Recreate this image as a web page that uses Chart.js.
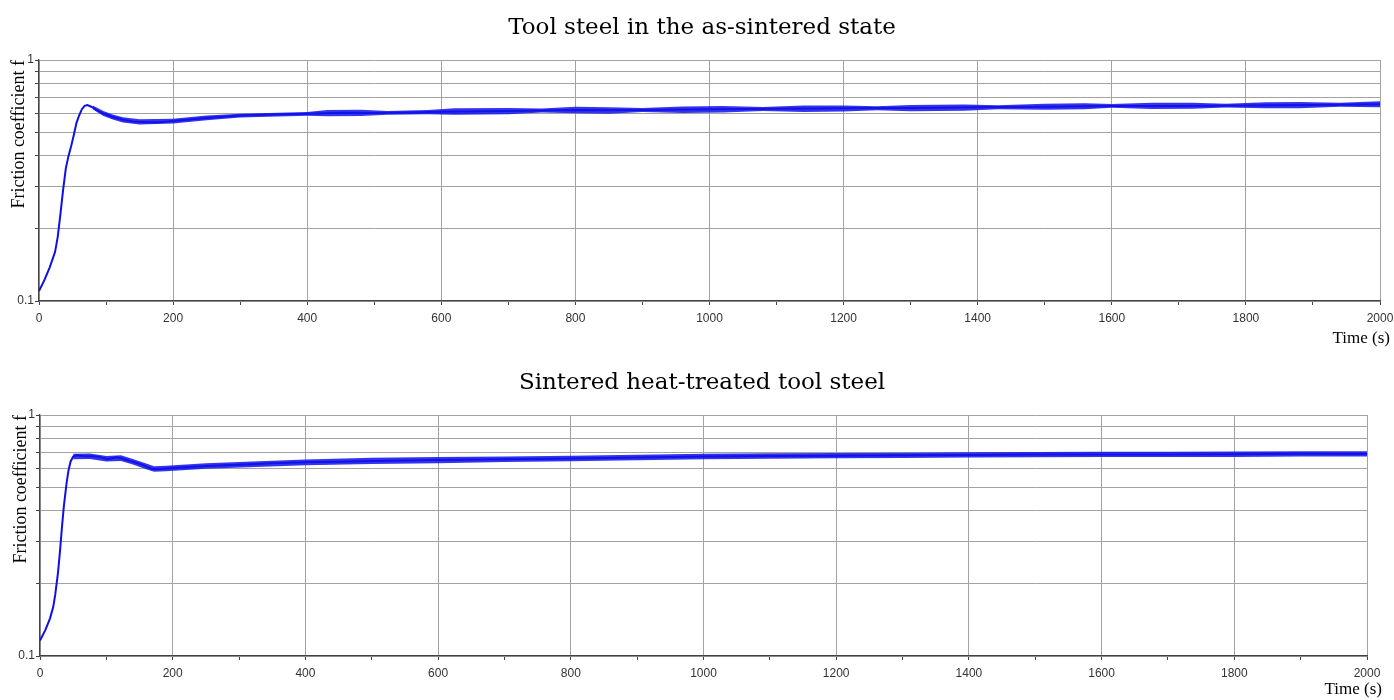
<!DOCTYPE html>
<html>
<head>
<meta charset="utf-8">
<title>Friction coefficient</title>
<script src="https://cdn.jsdelivr.net/npm/chart.js@4.4.1/dist/chart.umd.min.js"></script>
<style>
  body { margin: 0; background: #fff; }
  .painel { position: absolute; left: 0; }
</style>
</head>
<body>
<canvas id="grafico1" class="painel" width="1394" height="350" style="top:0"></canvas>
<canvas id="grafico2" class="painel" width="1394" height="350" style="top:350px"></canvas>
<script>
// eixos
const xTicks = [0, 100, 200, 300, 400, 500, 600, 700, 800, 900, 1000,
  1100, 1200, 1300, 1400, 1500, 1600, 1700, 1800, 1900, 2000];
const yTicks = [0.1, 0.2, 0.3, 0.4, 0.5, 0.6, 0.7, 0.8, 0.9, 1];

// aco sinterizado (grafico de cima)
const topTime = [0, 8, 16, 24, 28, 32, 36, 40, 44, 48, 52, 56, 60, 64, 68, 72, 78, 86, 96, 110,
  125, 140, 160, 180, 200, 250, 300, 350, 400, 450, 500, 550, 600, 700, 800, 850, 900, 1000, 1100, 1200,
  1300, 1400, 1500, 1600, 1700, 1800, 1900, 2000];
const topFriction = [0.110, 0.122, 0.138, 0.160, 0.185, 0.230, 0.290, 0.355, 0.400, 0.440,
  0.490, 0.550, 0.590, 0.625, 0.645, 0.650, 0.640, 0.620, 0.600, 0.580,
  0.565, 0.556, 0.552, 0.552, 0.558, 0.575, 0.588, 0.594, 0.598, 0.604,
  0.603, 0.606, 0.610, 0.614, 0.620, 0.618, 0.620, 0.624, 0.627, 0.630,
  0.632, 0.636, 0.640, 0.645, 0.645, 0.648, 0.650, 0.655];
// faixa da oscilacao
const topBandTime = [80, 96, 110, 125, 150, 200, 250, 300, 400, 430, 480, 520, 580, 620, 700, 750, 800, 850,
  900, 960, 1020, 1080, 1140, 1200, 1250, 1300, 1380, 1430, 1500, 1560, 1600, 1660, 1720, 1770,
  1830, 1880, 1940, 2000];
const topBandLow = [0.624, 0.585, 0.566, 0.551, 0.540, 0.545, 0.562, 0.577, 0.587, 0.584, 0.586, 0.593,
  0.596, 0.592, 0.596, 0.605, 0.601, 0.599, 0.608, 0.603, 0.606, 0.614, 0.609, 0.612, 0.619, 0.613,
  0.616, 0.625, 0.621, 0.624, 0.633, 0.626, 0.628, 0.635, 0.630, 0.631, 0.640, 0.636];
const topBandHigh = [0.648, 0.615, 0.594, 0.579, 0.568, 0.571, 0.588, 0.599, 0.609, 0.620, 0.622, 0.615,
  0.620, 0.630, 0.632, 0.629, 0.639, 0.637, 0.632, 0.641, 0.644, 0.638, 0.647, 0.648, 0.643, 0.651,
  0.654, 0.649, 0.659, 0.662, 0.657, 0.664, 0.664, 0.659, 0.668, 0.669, 0.664, 0.674];

// aco sinterizado com tratamento termico (grafico de baixo)
const botTime = [0, 8, 15, 20, 23, 27, 30, 33, 36, 40, 43, 46, 50, 55, 65, 75, 85, 95, 102, 108,
  115, 122, 135, 150, 160, 168, 175, 190, 210, 250, 300, 350, 400, 450, 500, 600, 700, 800, 900, 1000,
  1100, 1200, 1300, 1400, 1500, 1600, 1700, 1800, 1900, 2000];
const botFriction = [0.116, 0.128, 0.143, 0.160, 0.180, 0.220, 0.270, 0.340, 0.420, 0.520,
  0.590, 0.640, 0.672, 0.680, 0.676, 0.674, 0.672, 0.664, 0.656, 0.662,
  0.668, 0.662, 0.645, 0.628, 0.612, 0.598, 0.596, 0.600, 0.606, 0.614,
  0.622, 0.630, 0.636, 0.640, 0.645, 0.650, 0.655, 0.660, 0.666, 0.672,
  0.676, 0.678, 0.680, 0.683, 0.685, 0.686, 0.686, 0.688, 0.690, 0.689];
const botBandTime = [50, 75, 100, 122, 140, 160, 172, 190, 250, 400, 500, 600, 700, 800, 900, 1000,
  1100, 1200, 1300, 1400, 1500, 1600, 1700, 1800, 1900, 2000];
const botBandLow = [0.655, 0.657, 0.641, 0.645, 0.623, 0.596, 0.581, 0.584, 0.598, 0.619, 0.626, 0.631,
  0.638, 0.643, 0.649, 0.655, 0.659, 0.661, 0.663, 0.666, 0.668, 0.669, 0.669, 0.670, 0.673, 0.672];
const botBandHigh = [0.690, 0.692, 0.676, 0.680, 0.657, 0.629, 0.613, 0.616, 0.631, 0.653, 0.664, 0.669,
  0.673, 0.678, 0.684, 0.690, 0.694, 0.696, 0.698, 0.701, 0.703, 0.704, 0.704, 0.706, 0.708, 0.707];

const toPoints = (xs, ys) => xs.map((x, i) => ({ x: x, y: ys[i] }));

const serif = '"DejaVu Serif", "Liberation Serif", serif';
const serifLabel = '"Liberation Serif", "Times New Roman", serif';
const sans = '"Liberation Sans", Arial, sans-serif';

// titulo e "Time (s)" desenhados na posicao do original
const textos = {
  id: 'textos',
  afterDraw(chart, args, opts) {
    const ctx = chart.ctx;
    ctx.save();
    ctx.fillStyle = '#000';
    ctx.textBaseline = 'middle';
    ctx.font = '23px ' + serif;
    ctx.textAlign = 'center';
    ctx.fillText(opts.title, opts.titleX, opts.titleY);
    ctx.font = '17px ' + serifLabel;
    ctx.textAlign = 'right';
    ctx.fillText('Time (s)', opts.timeX, opts.timeY);
    ctx.restore();
  },
};

const criarGrafico = (id, cfg) => {
  const ctx = document.getElementById(id);
  return new Chart(ctx, {
    type: 'line',
    data: {
      datasets: [
        {
          data: toPoints(cfg.bandTime, cfg.bandLow),
          borderWidth: 0,
          pointRadius: 0,
          fill: false,
        },
        {
          data: toPoints(cfg.bandTime, cfg.bandHigh),
          borderWidth: 0,
          pointRadius: 0,
          fill: '-1',
          backgroundColor: 'rgba(18, 18, 235, 0.85)',
        },
        {
          data: toPoints(cfg.time, cfg.friction),
          borderColor: '#1010e6',
          borderWidth: 2,
          pointRadius: 0,
          fill: false,
        },
      ],
    },
    plugins: [textos],
    options: {
      responsive: false,
      animation: false,
      events: [],
      layout: { padding: { top: cfg.padTop, right: cfg.padRight, left: 0, bottom: 0 } },
      plugins: {
        legend: { display: false },
        tooltip: { enabled: false },
        title: { display: false },
        textos: {
          title: cfg.title,
          titleX: 702,
          titleY: cfg.titleY,
          timeX: cfg.timeX,
          timeY: cfg.timeY,
        },
      },
      scales: {
        x: {
          type: 'linear',
          min: 0,
          max: 2000,
          afterBuildTicks: (scale) => {
            scale.ticks = xTicks.map((v) => ({ value: v }));
          },
          afterFit: (scale) => {
            scale.height = cfg.xHeight;
            scale.paddingLeft = 0;
            scale.paddingRight = 0;
          },
          ticks: {
            autoSkip: false,
            maxRotation: 0,
            padding: 6,
            color: '#333',
            font: { family: sans, size: 12 },
            callback: (v) => (v % 200 === 0 ? String(v) : ''),
          },
          grid: {
            color: (c) => (c.tick && c.tick.value % 200 === 0 ? '#a3a3a3' : 'rgba(0,0,0,0)'),
            tickColor: '#444',
            tickLength: 4,
            lineWidth: 1,
          },
          border: { color: '#444', width: 1.3 },
        },
        y: {
          type: 'logarithmic',
          min: 0.1,
          max: 1,
          afterBuildTicks: (scale) => {
            scale.ticks = yTicks.map((v) => ({ value: v }));
          },
          afterFit: (scale) => {
            scale.width = cfg.yWidth;
          },
          ticks: {
            padding: 1,
            color: '#333',
            font: { family: sans, size: 12 },
            callback: (v) => (v === 1 ? '1' : v === 0.1 ? '0.1' : ''),
          },
          grid: {
            color: '#a3a3a3',
            tickColor: '#444',
            tickLength: 4,
            lineWidth: 1,
          },
          border: { color: '#444', width: 1.3 },
          title: {
            display: true,
            text: 'Friction coefficient f',
            align: 'end',
            color: '#000',
            font: { family: serifLabel, size: 18 },
            padding: { top: cfg.yTitlePad, bottom: 0 },
          },
        },
      },
    },
  });
};

criarGrafico('grafico1', {
  title: 'Tool steel in the as-sintered state',
  time: topTime,
  friction: topFriction,
  bandTime: topBandTime,
  bandLow: topBandLow,
  bandHigh: topBandHigh,
  padTop: 60,
  padRight: 14,
  xHeight: 49,
  yWidth: 39,
  yTitlePad: 8,
  titleY: 28,
  timeX: 1390,
  timeY: 339,
});

criarGrafico('grafico2', {
  title: 'Sintered heat-treated tool steel',
  time: botTime,
  friction: botFriction,
  bandTime: botBandTime,
  bandLow: botBandLow,
  bandHigh: botBandHigh,
  padTop: 65,
  padRight: 27,
  xHeight: 44,
  yWidth: 40,
  yTitlePad: 10,
  titleY: 33,
  timeX: 1382,
  timeY: 340,
});
</script>
</body>
</html>
